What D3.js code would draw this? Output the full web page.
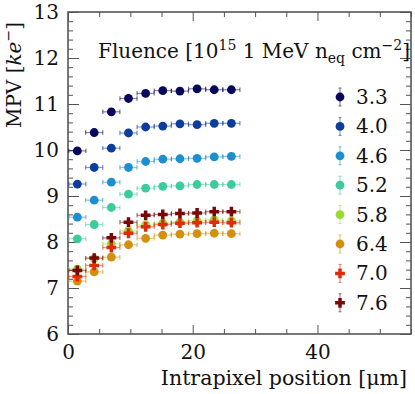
<!DOCTYPE html>
<html><head><meta charset="utf-8">
<script src="https://cdn.jsdelivr.net/npm/d3@7"></script>
<style>
html,body{margin:0;padding:0;background:#fff;}
svg{display:block;}
svg text{font-family:"DejaVu Serif","Liberation Serif",serif !important;fill:#111;}
</style></head>
<body>
<svg id="c" width="415" height="394"></svg>
<script>
// ---------- data ----------
const xPositions = [1.5, 4.2, 6.95, 9.7, 12.45, 15.2, 17.95, 20.7, 23.45, 26.2];
const xHalfWidth = [1.37, 1.37, 1.37, 1.37, 1.37, 1.37, 1.37, 1.37, 1.37, 1.37];
const fluenceLabels = ["3.3", "4.0", "4.6", "5.2", "5.8", "6.4", "7.0", "7.6"];
const mpv_3_3 = [9.98, 10.38, 10.83, 11.12, 11.23, 11.29, 11.28, 11.33, 11.31, 11.31];
const mpv_4_0 = [9.26, 9.62, 10.04, 10.37, 10.50, 10.52, 10.57, 10.55, 10.58, 10.58];
const mpv_4_6 = [8.54, 8.91, 9.30, 9.62, 9.75, 9.80, 9.81, 9.82, 9.85, 9.86];
const mpv_5_2 = [8.07, 8.38, 8.75, 9.04, 9.17, 9.21, 9.22, 9.25, 9.25, 9.25];
const mpv_5_8 = [7.41, 7.64, 7.96, 8.24, 8.37, 8.41, 8.43, 8.46, 8.48, 8.46];
const mpv_6_4 = [7.15, 7.35, 7.67, 7.94, 8.08, 8.15, 8.17, 8.18, 8.19, 8.18];
const mpv_7_0 = [7.25, 7.49, 7.88, 8.19, 8.33, 8.38, 8.41, 8.42, 8.43, 8.42];
const mpv_7_6 = [7.38, 7.65, 8.09, 8.43, 8.58, 8.60, 8.62, 8.63, 8.66, 8.66];
const seriesColors = ["#08085c", "#0c3d9c", "#1b8fcf", "#3ccb9d", "#9ad934", "#d38f0e", "#df2b0c", "#7a0707"];
const seriesMarkers = ["circle", "circle", "circle", "circle", "circle", "circle", "cross", "cross"];
const xTickLabels = [0, 20, 40];
const yTickLabels = [6, 7, 8, 9, 10, 11, 12, 13];

const allSeries = [mpv_3_3, mpv_4_0, mpv_4_6, mpv_5_2, mpv_5_8, mpv_6_4, mpv_7_0, mpv_7_6];

// ---------- layout ----------
const FONT = "DejaVu Serif";
const L = 68, R = 411, T = 12, B = 334;
const svg = d3.select("#c").attr("font-family", FONT);
const x = d3.scaleLinear().domain([0, 55]).range([L, R]);
const y = d3.scaleLinear().domain([6, 13]).range([B, T]);

const axisColor = "#555";

const xMinor = d3.range(0, 55.01, 5).filter(v => v % 20 !== 0);
const yMinor = d3.range(6, 13.001, 0.2).map(v => +v.toFixed(1)).filter(v => Math.abs(v - Math.round(v)) > 1e-6);

function styleAxis(g) {
  g.attr("font-family", FONT);
  g.select(".domain").remove();
  g.selectAll(".tick line").attr("stroke", axisColor).attr("stroke-width", 1);
  g.selectAll("text").attr("font-size", 20).attr("font-family", FONT).attr("fill", "#111");
}

svg.append("g").attr("transform", `translate(0,${B})`)
  .call(d3.axisBottom(x).tickValues(xTickLabels).tickSize(-9).tickPadding(11).tickFormat(d3.format("d")))
  .call(styleAxis);
svg.append("g").attr("transform", `translate(0,${B})`)
  .call(d3.axisBottom(x).tickValues(xMinor).tickSize(-5).tickFormat(""))
  .call(styleAxis);
svg.append("g").attr("transform", `translate(0,${T})`)
  .call(d3.axisTop(x).tickValues(xTickLabels).tickSize(-9).tickFormat(""))
  .call(styleAxis);
svg.append("g").attr("transform", `translate(0,${T})`)
  .call(d3.axisTop(x).tickValues(xMinor).tickSize(-5).tickFormat(""))
  .call(styleAxis);
svg.append("g").attr("transform", `translate(${L},0)`)
  .call(d3.axisLeft(y).tickValues(yTickLabels).tickSize(-11).tickPadding(9).tickFormat(d3.format("d")))
  .call(styleAxis);
svg.append("g").attr("transform", `translate(${L},0)`)
  .call(d3.axisLeft(y).tickValues(yMinor).tickSize(-5).tickFormat(""))
  .call(styleAxis);
svg.append("g").attr("transform", `translate(${R},0)`)
  .call(d3.axisRight(y).tickValues(yTickLabels).tickSize(-11).tickFormat(""))
  .call(styleAxis);
svg.append("g").attr("transform", `translate(${R},0)`)
  .call(d3.axisRight(y).tickValues(yMinor).tickSize(-5).tickFormat(""))
  .call(styleAxis);

svg.append("rect").attr("x", L).attr("y", T).attr("width", R - L).attr("height", B - T)
  .attr("fill", "none").attr("stroke", axisColor).attr("stroke-width", 1.6);

const yt = svg.append("text").attr("transform", `translate(21,${T + 10}) rotate(-90)`)
  .attr("text-anchor", "end").attr("font-size", 20);
yt.append("tspan").text("MPV [");
yt.append("tspan").attr("font-style", "italic").text("ke");
yt.append("tspan").attr("dy", -8).attr("font-size", 14).text("\u2212");
yt.append("tspan").attr("dy", 8).text("]");

svg.append("text").attr("x", 407).attr("y", 385).attr("text-anchor", "end")
  .attr("font-size", 20.5).text("Intrapixel position [\u03bcm]");

function crossPath(s) {
  const a = s, b = s * 0.36;
  return `M${-a},${-b}H${-b}V${-a}H${b}V${-b}H${a}V${b}H${b}V${a}H${-b}V${b}H${-a}Z`;
}
function drawMarker(g, type, color) {
  if (type === "circle") g.append("circle").attr("r", 4.4).attr("fill", color);
  else g.append("path").attr("d", crossPath(4.9)).attr("fill", color);
}

const plot = svg.append("g");
allSeries.forEach((vals, si) => {
  const col = seriesColors[si];
  const g = plot.append("g");
  xPositions.forEach((xv, i) => {
    const yv = y(vals[i]);
    const x0 = x(xv - xHalfWidth[i]), x1 = x(xv + xHalfWidth[i]);
    g.append("line").attr("x1", x0).attr("x2", x1).attr("y1", yv).attr("y2", yv)
      .attr("stroke", col).attr("stroke-opacity", 0.5).attr("stroke-width", 1.2);
    [x0, x1].forEach(xx => g.append("line").attr("x1", xx).attr("x2", xx).attr("y1", yv - 2.2).attr("y2", yv + 2.2)
      .attr("stroke", col).attr("stroke-opacity", 0.6).attr("stroke-width", 1.2));
  });
  xPositions.forEach((xv, i) => {
    const m = g.append("g").attr("transform", `translate(${x(xv)},${y(vals[i])})`);
    drawMarker(m, seriesMarkers[si], col);
  });
});

const lt = svg.append("text").attr("x", 98).attr("y", 58).attr("font-size", 20);
lt.append("tspan").text("Fluence [10");
lt.append("tspan").attr("dy", -8).attr("font-size", 14).text("15");
lt.append("tspan").attr("dy", 8).text(" 1 MeV n");
lt.append("tspan").attr("dy", 5).attr("font-size", 14).text("eq");
lt.append("tspan").attr("dy", -5).text(" cm");
lt.append("tspan").attr("dy", -8).attr("font-size", 14).text("\u22122");
lt.append("tspan").attr("dy", 8).text("]");

fluenceLabels.forEach((lab, i) => {
  const cy = 97 + i * 29.4;
  const col = seriesColors[i];
  const g = svg.append("g").attr("transform", `translate(340,${cy})`);
  g.append("line").attr("x1", 0).attr("x2", 0).attr("y1", -9).attr("y2", 9)
    .attr("stroke", col).attr("stroke-opacity", 0.6).attr("stroke-width", 1);
  [-9, 9].forEach(yy => g.append("line").attr("x1", -1.5).attr("x2", 1.5).attr("y1", yy).attr("y2", yy)
    .attr("stroke", col).attr("stroke-opacity", 0.6).attr("stroke-width", 1));
  drawMarker(g, seriesMarkers[i], col);
  svg.append("text").attr("x", 356).attr("y", cy + 7).attr("font-size", 20).text(lab);
});
</script>
</body></html>
